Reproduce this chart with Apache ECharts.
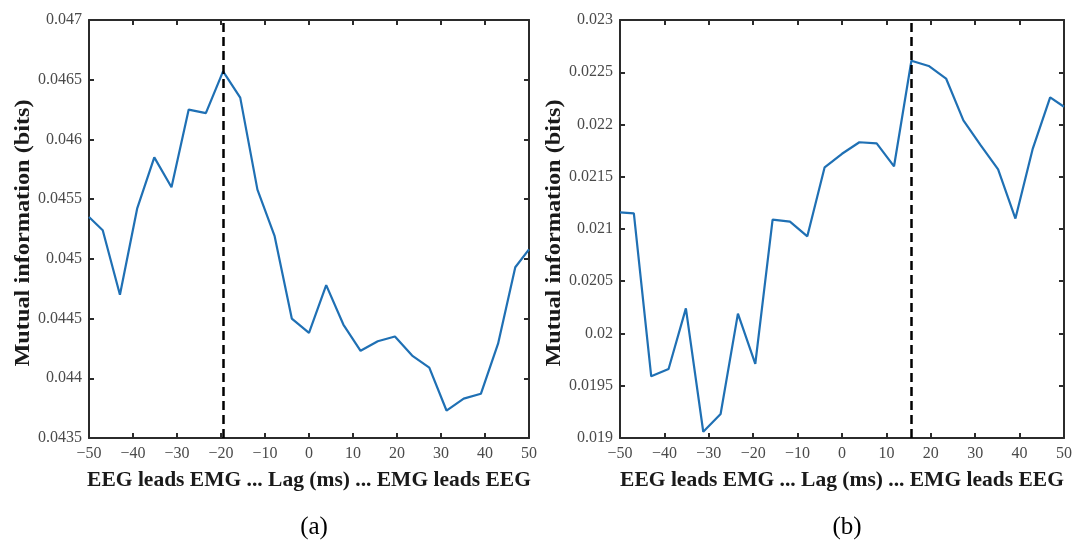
<!DOCTYPE html>
<html>
<head>
<meta charset="utf-8">
<title>Mutual information vs lag</title>
<script src="https://cdn.jsdelivr.net/npm/echarts@6/dist/echarts.min.js"></script>
<style>
  html, body { margin: 0; padding: 0; background: #fff; }
  #chart { width: 1077px; height: 547px; }
</style>
</head>
<body>
<div id="chart"></div>
<script>
// Lag samples (ms), shared by both panels; ends trimmed to the ±50 ms window
const lags = [-50, -46.88, -42.97, -39.06, -35.16, -31.25, -27.34, -23.44, -19.53,
  -15.63, -11.72, -7.81, -3.91, 0, 3.91, 7.81, 11.72, 15.63, 19.53, 23.44,
  27.34, 31.25, 35.16, 39.06, 42.97, 46.88, 50];

// Panel (a): mutual information (bits)
const miA = [0.04535, 0.04524, 0.04470, 0.04542, 0.04585, 0.04560, 0.04625, 0.04622, 0.04657,
  0.04635, 0.04558, 0.04519, 0.04450, 0.04438, 0.04478, 0.04445, 0.04423, 0.04431, 0.04435,
  0.04419, 0.04409, 0.04373, 0.04383, 0.04387, 0.04429, 0.04493, 0.04508];

// Panel (b): mutual information (bits)
const miB = [0.02116, 0.02115, 0.01959, 0.01966, 0.02024, 0.01906, 0.01923, 0.02019, 0.01971,
  0.02109, 0.02107, 0.02093, 0.02159, 0.02172, 0.02183, 0.02182, 0.02160, 0.02261, 0.02256,
  0.02244, 0.02204, 0.02180, 0.02157, 0.02110, 0.02177, 0.02226, 0.02217];

// Lag of maximum mutual information in each panel (dashed markers)
const peakLagA = -19.53;
const peakLagB = 15.63;

// Axis ranges
const yRangeA = [0.0435, 0.047];
const yRangeB = [0.019, 0.023];
const xRange = [-50, 50];

const xName = 'EEG leads EMG ... Lag (ms) ... EMG leads EEG';
const yName = 'Mutual information (bits)';
const captions = ['(a)', '(b)'];

const chart = echarts.init(document.getElementById('chart'), null, { renderer: 'canvas' });

const serif = '"Liberation Serif", "DejaVu Serif", serif';
const axisColor = '#2b2b2b';
const labelColor = '#4a4a4a';
const nameColor = '#1a1a1a';
const lineColor = '#1f70b4';

function fmtX(v) { return v < 0 ? '\u2212' + Math.abs(v) : String(v); }
function fmtY(v) { return String(parseFloat(v.toFixed(5))); }

const grids = [
  { left: 89, top: 20, width: 440, height: 418 },
  { left: 620, top: 20, width: 444, height: 418 }
];

function axisBase() {
  return {
    splitLine: { show: false },
    axisLine: { show: true, onZero: false, lineStyle: { color: axisColor, width: 2 } },
    axisTick: { show: true, inside: true, length: 5, lineStyle: { color: axisColor, width: 2 } }
  };
}

function xAxes(gi) {
  const common = Object.assign(axisBase(), {
    type: 'value', gridIndex: gi, min: xRange[0], max: xRange[1], interval: 10
  });
  return [
    Object.assign({}, common, {
      position: 'bottom',
      axisLabel: { show: true, formatter: fmtX, color: labelColor, fontFamily: serif, fontSize: 16, margin: 8 },
      name: xName, nameLocation: 'middle', nameGap: 31,
      nameTextStyle: { fontFamily: serif, fontWeight: 'bold', fontSize: 21.5, color: nameColor }
    }),
    Object.assign({}, common, { position: 'top', axisLabel: { show: false } })
  ];
}

function yAxes(gi, range) {
  const common = Object.assign(axisBase(), {
    type: 'value', gridIndex: gi, min: range[0], max: range[1], interval: 0.0005
  });
  return [
    Object.assign({}, common, {
      position: 'left',
      axisLabel: { show: true, formatter: fmtY, color: labelColor, fontFamily: serif, fontSize: 16, margin: 7 }
    }),
    Object.assign({}, common, { position: 'right', axisLabel: { show: false } })
  ];
}

function lineSeries(values, xi, yi, peak) {
  return {
    type: 'line', xAxisIndex: xi, yAxisIndex: yi,
    data: lags.map((l, i) => [l, values[i]]),
    showSymbol: false, symbol: 'none', clip: true, animation: false,
    lineStyle: { color: lineColor, width: 2.2 },
    markLine: {
      silent: true, symbol: 'none', animation: false,
      label: { show: false },
      lineStyle: { color: '#000', width: 2.5, type: [9, 5] },
      data: [{ xAxis: peak }]
    }
  };
}

// Vertical y-axis titles, slightly elongated along the reading direction
function yTitle(cx, cy) {
  return {
    type: 'text', x: cx, y: cy, rotation: Math.PI / 2, scaleX: 1.13, scaleY: 1,
    silent: true,
    style: {
      text: yName, fill: nameColor,
      font: 'bold 21.5px ' + serif,
      textAlign: 'center', textVerticalAlign: 'middle'
    }
  };
}

const option = {
  backgroundColor: '#fff',
  animation: false,
  grid: grids,
  title: [
    { text: captions[0], left: 309, top: 510, textAlign: 'center',
      textStyle: { fontFamily: serif, fontWeight: 'normal', fontSize: 25, color: '#000' } },
    { text: captions[1], left: 842, top: 510, textAlign: 'center',
      textStyle: { fontFamily: serif, fontWeight: 'normal', fontSize: 25, color: '#000' } }
  ],
  graphic: [yTitle(23, 233), yTitle(554, 233)],
  xAxis: xAxes(0).concat(xAxes(1)),
  yAxis: yAxes(0, yRangeA).concat(yAxes(1, yRangeB)),
  series: [
    lineSeries(miA, 0, 0, peakLagA),
    lineSeries(miB, 2, 2, peakLagB)
  ]
};

chart.setOption(option);
</script>
</body>
</html>
